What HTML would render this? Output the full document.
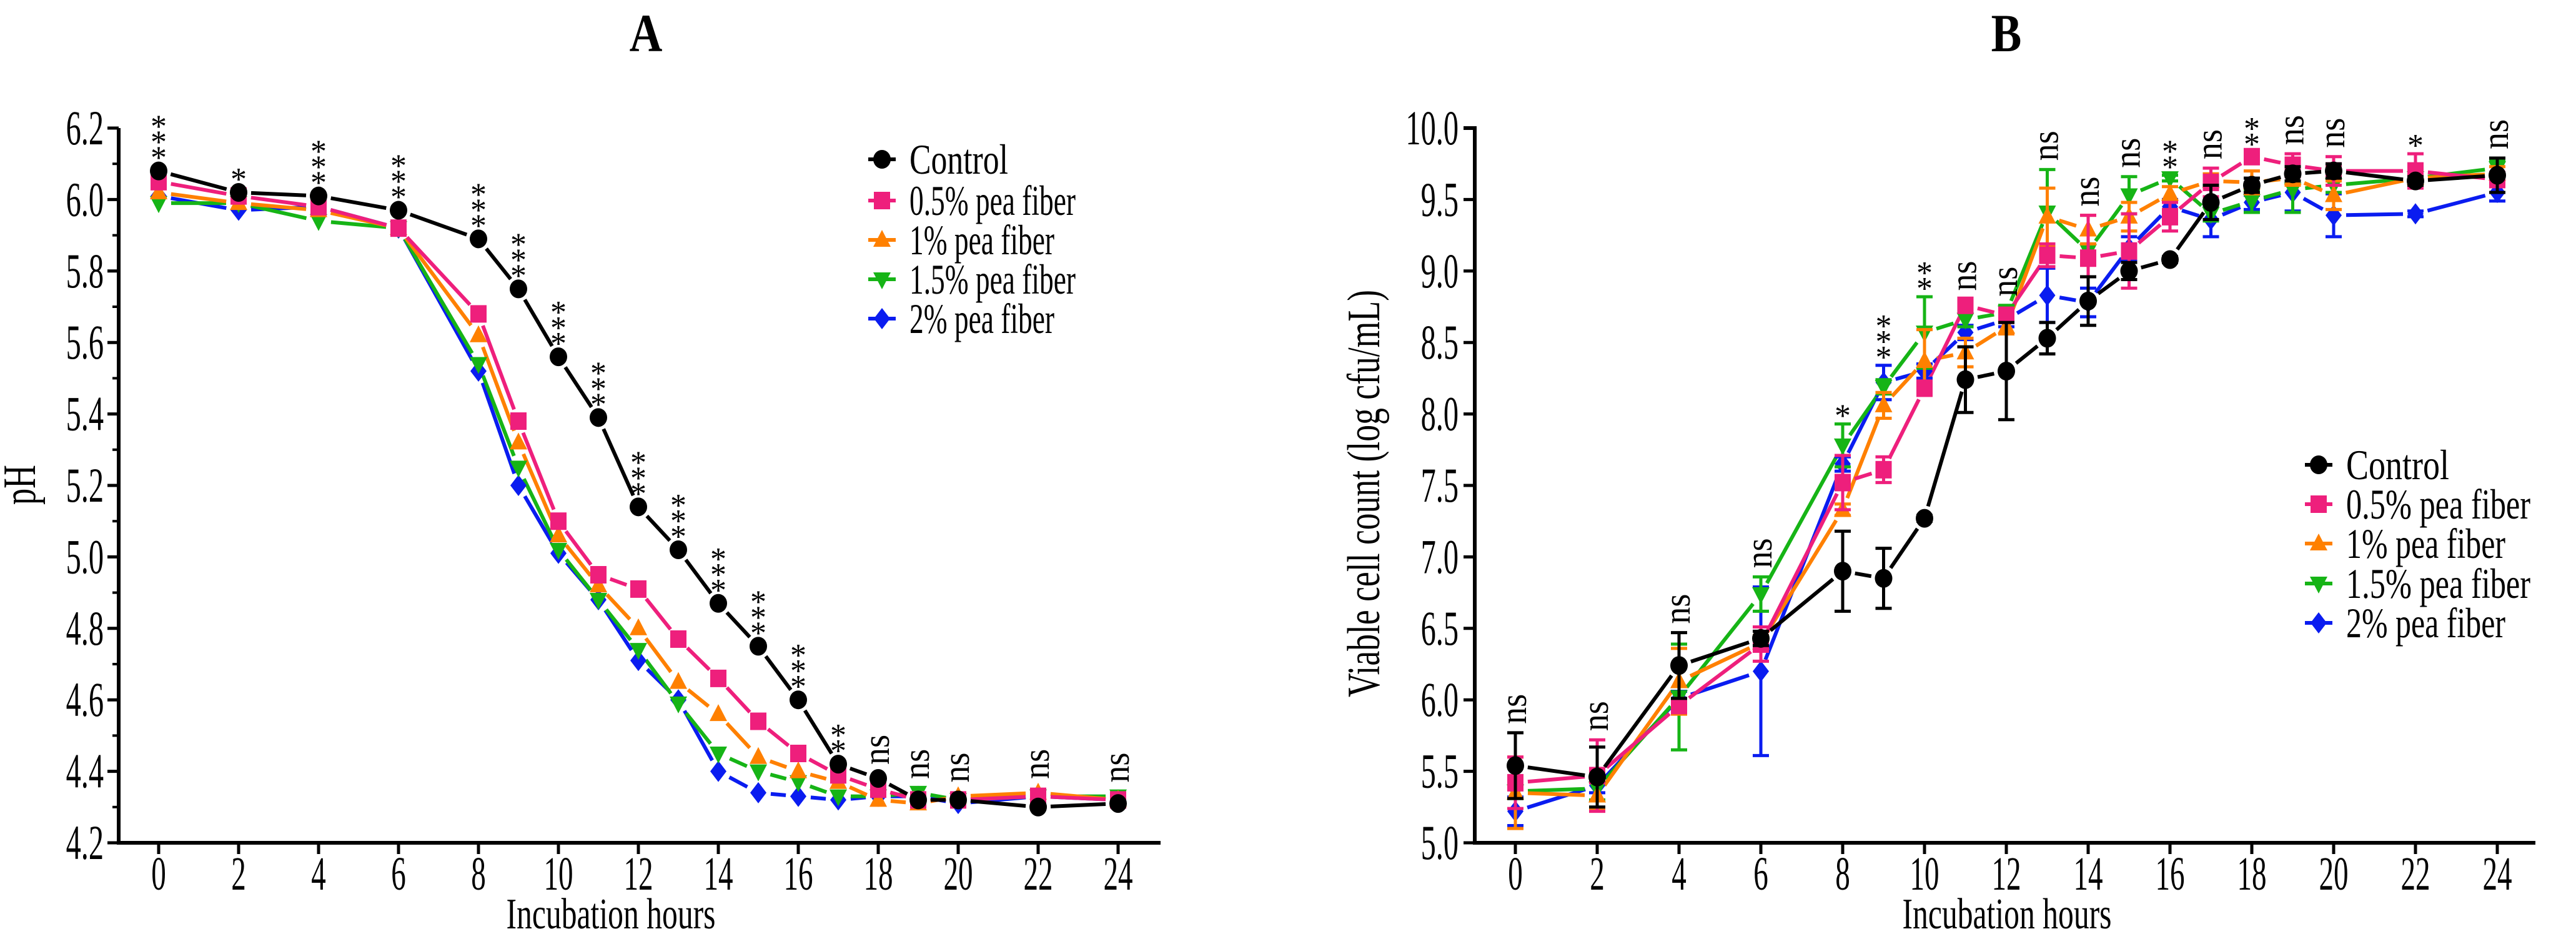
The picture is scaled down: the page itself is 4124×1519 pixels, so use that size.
<!DOCTYPE html>
<html><head><meta charset="utf-8"><style>
html,body{margin:0;padding:0;background:#fff;}
svg{display:block;font-family:"Liberation Serif","Times New Roman",serif;}
</style></head><body>
<svg id="chart" width="4124" height="1519" viewBox="0 0 4124 1519" xmlns="http://www.w3.org/2000/svg">
<rect width="4124" height="1519" fill="#fff"/>
<g id="gA"></g>
<g id="gB"></g>
</svg>
<script>
const hours = [0,2,4,6,8,9,10,11,12,13,14,15,16,17,18,19,20,22,24];
const xTickLabels = ["0","2","4","6","8","10","12","14","16","18","20","22","24"];
const seriesNames = ["Control","0.5% pea fiber","1% pea fiber","1.5% pea fiber","2% pea fiber"];
const phControl = [6.08,6.02,6.01,5.97,5.89,5.75,5.56,5.39,5.14,5.02,4.87,4.75,4.60,4.42,4.38,4.32,4.32,4.30,4.31];
const ph05 = [6.05,6.01,5.98,5.92,5.68,5.38,5.10,4.95,4.91,4.77,4.66,4.54,4.45,4.39,4.35,4.32,4.32,4.33,4.32];
const ph1 = [6.02,5.99,5.97,5.92,5.62,5.32,5.06,4.92,4.80,4.65,4.56,4.44,4.40,4.37,4.32,4.31,4.33,4.34,4.32];
const ph15 = [5.99,5.99,5.94,5.92,5.54,5.25,5.02,4.88,4.74,4.59,4.45,4.40,4.37,4.33,4.33,4.34,4.32,4.33,4.33];
const ph2 = [6.01,5.97,5.98,5.92,5.52,5.20,5.01,4.88,4.71,4.60,4.40,4.34,4.33,4.32,4.33,4.33,4.31,4.33,4.32];
const phSig = ["***","*","***","***","***","***","***","***","***","***","***","***","***","**","ns","ns","ns","ns","ns"];
const phTicks = ["4.2","4.4","4.6","4.8","5.0","5.2","5.4","5.6","5.8","6.0","6.2"];

const vcControl = [5.54,5.46,6.24,6.43,6.90,6.85,7.27,8.24,8.30,8.53,8.79,9.00,9.08,9.48,9.60,9.68,9.70,9.63,9.67];
const vc05 = [5.42,5.47,5.96,6.39,7.52,7.61,8.18,8.76,8.69,9.11,9.09,9.14,9.38,9.62,9.80,9.74,9.70,9.70,9.64];
const vc1 = [5.35,5.33,6.13,6.40,7.33,8.06,8.37,8.43,8.61,9.38,9.29,9.38,9.54,9.63,9.62,9.65,9.53,9.65,9.68];
const vc15 = [5.36,5.38,6.02,6.74,7.78,8.19,8.57,8.66,8.71,9.41,9.14,9.53,9.65,9.40,9.49,9.57,9.60,9.65,9.72];
const vc2 = [5.22,5.40,6.01,6.20,7.65,8.22,8.30,8.57,8.66,8.83,8.78,9.16,9.45,9.36,9.48,9.55,9.39,9.40,9.55];
const errControl = [0.23,0.21,0.23,0.05,0.28,0.21,0.02,0.23,0.34,0.11,0.17,0.06,0.02,0.12,0.05,0.05,0.05,0.03,0.12];
const err05 = [0.18,0.25,0.04,0.12,0.19,0.09,0.03,0.04,0.05,0.08,0.30,0.26,0.10,0.10,0.03,0.08,0.10,0.12,0.05];
const err1 = [0.25,0.10,0.23,0.05,0.04,0.09,0.22,0.10,0.05,0.20,0.10,0.10,0.05,0.05,0.08,0.05,0.10,0.05,0.05];
const err15 = [0.05,0.08,0.37,0.12,0.15,0.05,0.25,0.05,0.05,0.30,0.05,0.13,0.02,0.05,0.08,0.16,0.05,0.05,0.05];
const err2 = [0.10,0.05,0.05,0.59,0.05,0.12,0.05,0.05,0.05,0.19,0.10,0.08,0.05,0.12,0.05,0.13,0.15,0.02,0.06];
const vcSig = ["ns","ns","ns","ns","*","***","**","ns","ns","ns","ns","ns","**","ns","**","ns","ns","*","ns"];
const vcTicks = ["5.0","5.5","6.0","6.5","7.0","7.5","8.0","8.5","9.0","9.5","10.0"];

const colors = ["#000000","#ee1f7c","#ff8000","#16b416","#0a1cf0"];
const shapes = ["circle","square","up","down","diamond"];
const NS = "http://www.w3.org/2000/svg";
function mk(parent, tag, attrs){const e=document.createElementNS(NS,tag);for(const k in attrs)e.setAttribute(k,attrs[k]);parent.appendChild(e);return e;}
function txt(parent, s, x, y, size, opts){
  opts=opts||{};
  const t=mk(parent,'text',{x:0,y:0,'font-size':size,'text-anchor':opts.anchor||'middle',fill:'#000'});
  if(opts.bold)t.setAttribute('font-weight','bold');
  if(opts.len){t.setAttribute('textLength',opts.len);t.setAttribute('lengthAdjust','spacingAndGlyphs');}
  let tr='translate('+x+','+y+')';
  if(opts.rot)tr+=' rotate('+opts.rot+')';
  if(opts.sx)tr+=' scale('+opts.sx+',1)';
  t.setAttribute('transform',tr);
  t.textContent=s;return t;
}
function marker(parent, shape, x, y, c){
  let e;
  if(shape==='circle') e=mk(parent,'ellipse',{cx:x,cy:y,rx:14,ry:15,fill:c});
  else if(shape==='square') e=mk(parent,'rect',{x:x-13,y:y-14,width:26,height:28,fill:c});
  else if(shape==='up') e=mk(parent,'polygon',{points:(x)+','+(y-16)+' '+(x+14)+','+(y+11)+' '+(x-14)+','+(y+11),fill:c});
  else if(shape==='down') e=mk(parent,'polygon',{points:(x)+','+(y+16)+' '+(x+14)+','+(y-11)+' '+(x-14)+','+(y-11),fill:c});
  else e=mk(parent,'polygon',{points:x+','+(y-17)+' '+(x+13)+','+y+' '+x+','+(y+17)+' '+(x-13)+','+y,fill:c});
  return e;
}
function seriesLine(parent, xs, ys, c){
  for(let i=0;i<xs.length-1;i++){
    const x1=xs[i],y1=ys[i],x2=xs[i+1],y2=ys[i+1];
    const d=Math.hypot(x2-x1,y2-y1); const g=20;
    if(d<2*g+4) continue;
    const ux=(x2-x1)/d,uy=(y2-y1)/d;
    const l=mk(parent,'line',{x1:x1+ux*g,y1:y1+uy*g,x2:x2-ux*g,y2:y2-uy*g,stroke:c,'stroke-width':6});
    
    
  }
}
function sigLabel(parent, s, x, yBottom){
  if(s==='ns'){
    const t=txt(parent,'ns',x+17,yBottom,60,{anchor:'start',rot:-90,sx:0.9});
    
    
  } else {
    for(let k=0;k<s.length;k++){
      const t=txt(parent,'*',x,yBottom+22-k*25-4,52);
      
      
    }
  }
}
function legend(parent, x, ys, lens, size){
  for(let i=0;i<5;i++){
    const g=mk(parent,'g',{});
    
    
    mk(g,'line',{x1:x-22,y1:ys[i],x2:x+22,y2:ys[i],stroke:colors[i],'stroke-width':6});
    marker(g,shapes[i],x,ys[i],colors[i]);
    txt(g,seriesNames[i],x+44,ys[i]+23,size,{anchor:'start',len:lens[i]});
  }
}

/* ---------- Panel A ---------- */
(function(){
  const g=document.getElementById('gA');
  const X0=190, Y0=1349;
  const xA=h=>254+h*64;
  const yA=v=>1349-(v-4.2)*572;
  const data=[phControl,ph05,ph1,ph15,ph2];
  const ax=mk(g,'path',{d:'M'+X0+','+yA(6.2)+' V'+Y0+' H1858',stroke:'#000','stroke-width':6,fill:'none'});
   
  phTicks.forEach(s=>{const v=parseFloat(s),y=yA(v);
    mk(g,'line',{x1:X0-18,y1:y,x2:X0,y2:y,stroke:'#000','stroke-width':5});
    const t=txt(g,s,X0-24,y+26,78,{anchor:'end',sx:0.62});
     
  });
  for(let v=4.3;v<6.2;v+=0.2){const y=yA(v);mk(g,'line',{x1:X0-10,y1:y,x2:X0,y2:y,stroke:'#000','stroke-width':4});}
  xTickLabels.forEach(s=>{const h=parseFloat(s),x=xA(h);
    mk(g,'line',{x1:x,y1:Y0,x2:x,y2:Y0+18,stroke:'#000','stroke-width':5});
    const t=txt(g,s,x,Y0+75,76,{sx:0.62});
     
  });
  for(let s=4;s>=0;s--){
    seriesLine(g,hours.map(xA),data[s].map(yA),colors[s]);
  }
  for(let s=4;s>=0;s--){
    hours.forEach((h,i)=>{const m=marker(g,shapes[s],xA(h),yA(data[s][i]),colors[s]);
       });
  }
  hours.forEach((h,i)=>{
    let mx=Math.max(...data.map(d=>d[i]));
    sigLabel(g,phSig[i],xA(h),yA(mx)-22);
  });
  const tA=txt(g,'A',1034,82,86,{bold:true,sx:0.85});  
  const xt=txt(g,'Incubation hours',978,1486,70,{len:335});  
  const yt=txt(g,'pH',56,776,74,{rot:-90,len:64});  
  legend(g,1412,[255,321,384,447,510],[158,266,232,266,232],68);
})();

/* ---------- Panel B ---------- */
(function(){
  const g=document.getElementById('gB');
  const X0=2361, Y0=1349;
  const xB=h=>2426+h*65.5;
  const yB=v=>1349-(v-5)*228.8;
  const data=[vcControl,vc05,vc1,vc15,vc2];
  const errs=[errControl,err05,err1,err15,err2];
  const ax=mk(g,'path',{d:'M'+(X0-18)+','+yB(10)+' H'+X0+' V'+Y0+' H4059',stroke:'#000','stroke-width':6,fill:'none'});
   
  vcTicks.forEach(s=>{const v=parseFloat(s),y=yB(v);
    mk(g,'line',{x1:X0-18,y1:y,x2:X0,y2:y,stroke:'#000','stroke-width':5});
    const t=txt(g,s,X0-26,y+26,78,{anchor:'end',sx:0.62});
     
  });
  xTickLabels.forEach(s=>{const h=parseFloat(s),x=xB(h);
    mk(g,'line',{x1:x,y1:Y0,x2:x,y2:Y0+18,stroke:'#000','stroke-width':5});
    const t=txt(g,s,x,Y0+75,76,{sx:0.62});
     
  });
  for(let s=4;s>=0;s--){
    seriesLine(g,hours.map(xB),data[s].map(yB),colors[s]);
  }
  for(let s=4;s>=0;s--){
    hours.forEach((h,i)=>{
      const x=xB(h),v=data[s][i],e=errs[s][i];
      const eb=mk(g,'path',{d:'M'+x+','+yB(v-e)+' V'+yB(v+e)+' M'+(x-13)+','+yB(v+e)+' h26 M'+(x-13)+','+yB(v-e)+' h26',stroke:colors[s],'stroke-width':5,fill:'none'});
       
      const m=marker(g,shapes[s],x,yB(v),colors[s]);
       
    });
  }
  hours.forEach((h,i)=>{
    let mx=Math.max(...data.map((d,s)=>d[i]+errs[s][i]));
    sigLabel(g,vcSig[i],xB(h),yB(mx)-14);
  });
  const tB=txt(g,'B',3212,82,86,{bold:true,sx:0.85});  
  const xt=txt(g,'Incubation hours',3213,1486,70,{len:335});  
  const yt=txt(g,'Viable cell count (log cfu/mL)',2208,790,74,{rot:-90,len:652});  
  legend(g,3712,[744,807,870,934,997],[165,295,255,295,255],68);
})();
</script>
</body></html>
